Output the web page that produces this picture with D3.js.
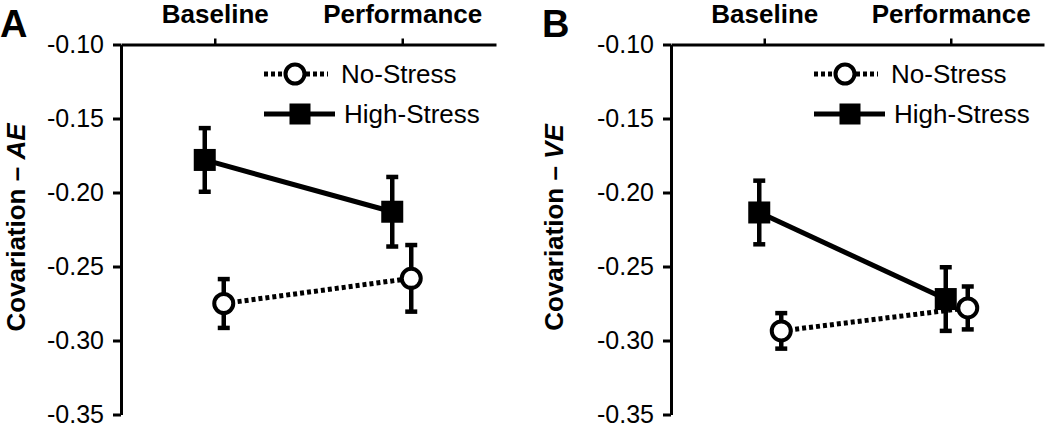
<!DOCTYPE html>
<html>
<head>
<meta charset="utf-8">
<script src="https://cdn.jsdelivr.net/npm/d3@7"></script>
<style>
  html, body { margin: 0; padding: 0; background: #fff; }
  svg { display: block; font-family: "Liberation Sans", Arial, Helvetica, sans-serif; }
</style>
</head>
<body>
<svg id="chart" width="1050" height="427"></svg>
<script>
// ---- data ----
const categories = ["Baseline", "Performance"];
const seriesNames = ["No-Stress", "High-Stress"];
const yTickValues = [-0.10, -0.15, -0.20, -0.25, -0.30, -0.35];

const aeNoStress = [-0.275, -0.258];
const aeNoStressErr = [0.0165, 0.0225];
const aeHighStress = [-0.178, -0.213];
const aeHighStressErr = [0.0215, 0.0235];

const veNoStress = [-0.2935, -0.278];
const veNoStressErr = [0.012, 0.0145];
const veHighStress = [-0.2135, -0.272];
const veHighStressErr = [0.0215, 0.0215];

const panelLetters = ["A", "B"];
const panelMeasures = ["AE", "VE"];

// ---- layout ----
const svg = d3.select("#chart");
const plotH = 370;
const plotTop = 44.5;
const panels = [
  { letter: panelLetters[0], measure: panelMeasures[0], left: 121, width: 375, titleX: -96, letterX: 0,
    ns: aeNoStress, nsErr: aeNoStressErr, hs: aeHighStress, hsErr: aeHighStressErr, offNS: 9, offHS: -10 },
  { letter: panelLetters[1], measure: panelMeasures[1], left: 671, width: 373, titleX: -108, letterX: 542,
    ns: veNoStress, nsErr: veNoStressErr, hs: veHighStress, hsErr: veHighStressErr, offNS: 17, offHS: -5 }
];

const y = d3.scaleLinear().domain([-0.35, -0.10]).range([plotH, 0]);

panels.forEach(p => {
  svg.append("text")
    .attr("x", p.letterX).attr("y", 37)
    .attr("font-size", 38).attr("font-weight", "bold")
    .text(p.letter);

  const g = svg.append("g").attr("transform", `translate(${p.left},${plotTop})`);
  const x = d3.scalePoint().domain(categories).range([0, p.width]).padding(0.5);

  // y axis
  const yAxis = g.append("g").call(
    d3.axisLeft(y).tickValues(yTickValues).tickFormat(d => d.toFixed(2))
      .tickSize(8).tickSizeOuter(0).tickPadding(9)
  );
  yAxis.select(".domain").attr("stroke", "#000").attr("stroke-width", 3);
  yAxis.selectAll(".tick line").attr("stroke", "#000").attr("stroke-width", 3);
  yAxis.selectAll(".tick text").attr("font-size", 25).attr("fill", "#000")
    .attr("font-family", "Liberation Sans, Arial, sans-serif");

  // top x axis
  const xAxis = g.append("g").call(
    d3.axisTop(x).tickSize(6).tickSizeOuter(0).tickPadding(16)
  );
  xAxis.select(".domain").attr("stroke", "#000").attr("stroke-width", 3);
  xAxis.selectAll(".tick line").attr("stroke", "#000").attr("stroke-width", 2.5);
  xAxis.selectAll(".tick text").attr("font-size", 26).attr("font-weight", "bold").attr("fill", "#000")
    .attr("font-family", "Liberation Sans, Arial, sans-serif");

  // y title
  const t = g.append("text")
    .attr("transform", `translate(${p.titleX},${plotH / 2 - 2}) rotate(-90)`)
    .attr("text-anchor", "middle")
    .attr("font-size", 26).attr("font-weight", "bold");
  t.append("tspan").text("Covariation \u2013 ");
  t.append("tspan").attr("font-style", "italic").text(p.measure);

  const series = [
    { name: seriesNames[1], vals: p.hs, errs: p.hsErr, off: p.offHS, type: "square" },
    { name: seriesNames[0], vals: p.ns, errs: p.nsErr, off: p.offNS, type: "circle" }
  ];

  // lines
  series.forEach(s => {
    const pts = categories.map((c, i) => [x(c) + s.off, y(s.vals[i])]);
    g.append("path")
      .attr("d", d3.line()(pts))
      .attr("fill", "none").attr("stroke", "#000")
      .attr("stroke-width", 5)
      .attr("stroke-dasharray", s.type === "square" ? null : "4,3");
  });

  // error bars
  series.forEach(s => {
    categories.forEach((c, i) => {
      const cx = x(c) + s.off;
      const y1 = y(s.vals[i] + s.errs[i]);
      const y2 = y(s.vals[i] - s.errs[i]);
      g.append("line").attr("x1", cx).attr("x2", cx).attr("y1", y1).attr("y2", y2)
        .attr("stroke", "#000").attr("stroke-width", 4.5);
      [y1, y2].forEach(yy => {
        g.append("line").attr("x1", cx - 6).attr("x2", cx + 6).attr("y1", yy).attr("y2", yy)
          .attr("stroke", "#000").attr("stroke-width", 4.5);
      });
    });
  });

  // markers
  series.forEach(s => {
    categories.forEach((c, i) => {
      const cx = x(c) + s.off, cy = y(s.vals[i]);
      if (s.type === "square") {
        g.append("rect").attr("x", cx - 11).attr("y", cy - 11).attr("width", 22).attr("height", 22)
          .attr("fill", "#000");
      } else {
        g.append("circle").attr("cx", cx).attr("cy", cy).attr("r", 9.5)
          .attr("fill", "#fff").attr("stroke", "#000").attr("stroke-width", 4);
      }
    });
  });

  // legend
  const lg = g.append("g").attr("transform", `translate(143,0)`);
  const rows = [
    { name: seriesNames[0], type: "circle", cy: 74 - plotTop },
    { name: seriesNames[1], type: "square", cy: 114 - plotTop }
  ];
  rows.forEach(r => {
    if (r.type === "circle") {
      lg.append("line").attr("x1", 0).attr("x2", 64).attr("y1", r.cy).attr("y2", r.cy)
        .attr("stroke", "#000").attr("stroke-width", 5).attr("stroke-dasharray", "4,3");
      lg.append("circle").attr("cx", 31).attr("cy", r.cy).attr("r", 9.5)
        .attr("fill", "#fff").attr("stroke", "#000").attr("stroke-width", 4);
      lg.append("text").attr("x", 77).attr("y", r.cy).attr("dy", "0.36em")
        .attr("font-size", 26).text(r.name);
    } else {
      lg.append("line").attr("x1", 0).attr("x2", 71).attr("y1", r.cy).attr("y2", r.cy)
        .attr("stroke", "#000").attr("stroke-width", 5);
      lg.append("rect").attr("x", 36 - 10.5).attr("y", r.cy - 10.5).attr("width", 21).attr("height", 21)
        .attr("fill", "#000");
      lg.append("text").attr("x", 80).attr("y", r.cy).attr("dy", "0.36em")
        .attr("font-size", 26).text(r.name);
    }
  });
});
</script>
</body>
</html>
